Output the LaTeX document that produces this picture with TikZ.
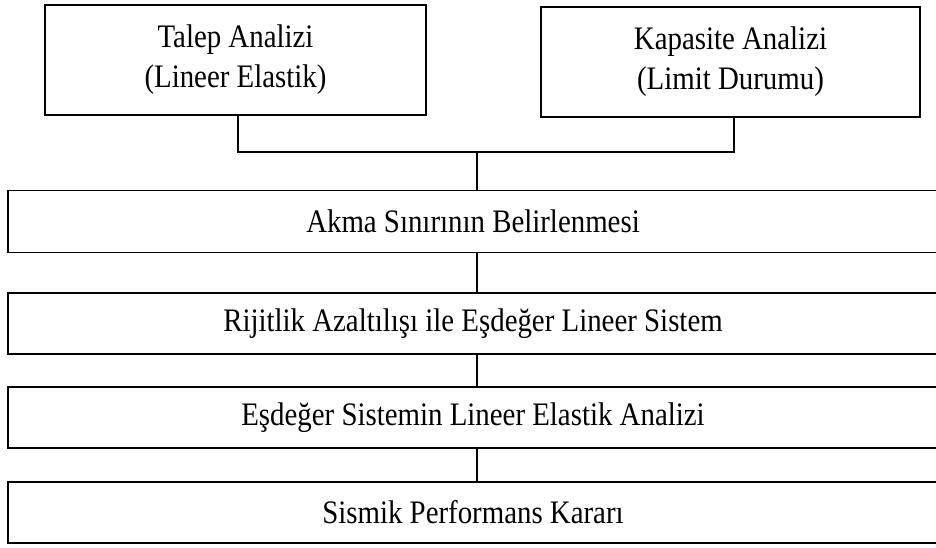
\documentclass[tikz,border=0pt]{standalone}
\usepackage{fontspec}
\setmainfont{Liberation Serif}[FakeStretch=0.88]
\begin{document}
\begin{tikzpicture}[x=1pt,y=-1pt,
  boxbase/.style={draw=black, line width=1.6pt, inner sep=0pt, outer sep=0pt,
    font=\fontsize{32.8}{40}\selectfont, align=center},
  topbox/.style={boxbase, minimum width=381pt, minimum height=110pt},
  longbox/.style={boxbase, minimum width=930pt, minimum height=62pt},
  link/.style={draw=black, line width=1.6pt}]
\useasboundingbox (0,0) rectangle (936,547);
\fill[white] (0,0) rectangle (936,547);
\node[topbox] (talep) at (235.5,60) {Talep Analizi\\(Lineer Elastik)};
\node[topbox, minimum width=379pt] (kap) at (730.5,62) {Kapasite Analizi\\(Limit Durumu)};
\node[longbox] (akma) at (473,221.5) {Akma Sınırının Belirlenmesi};
\node[longbox, minimum height=61pt] (rij) at (473,323.5) {Rijitlik Azaltılışı ile Eşdeğer Lineer Sistem};
\node[longbox, minimum height=61pt] (esd) at (473,417.5) {Eşdeğer Sistemin Lineer Elastik Analizi};
\node[longbox, minimum height=61pt] (sis) at (473,512.5) {Sismik Performans Kararı};
\coordinate (jl) at (238,152);
\coordinate (jr) at (734,152);
\coordinate (jm) at (477,152);
\draw[link] (talep.south -| jl) -- (jl) -- (jr) -- (kap.south -| jr);
\draw[link] (jm) -- (akma.north -| jm);
\draw[link] (akma.south -| jm) -- (rij.north -| jm);
\draw[link] (rij.south -| jm) -- (esd.north -| jm);
\draw[link] (esd.south -| jm) -- (sis.north -| jm);
\end{tikzpicture}
\end{document}
